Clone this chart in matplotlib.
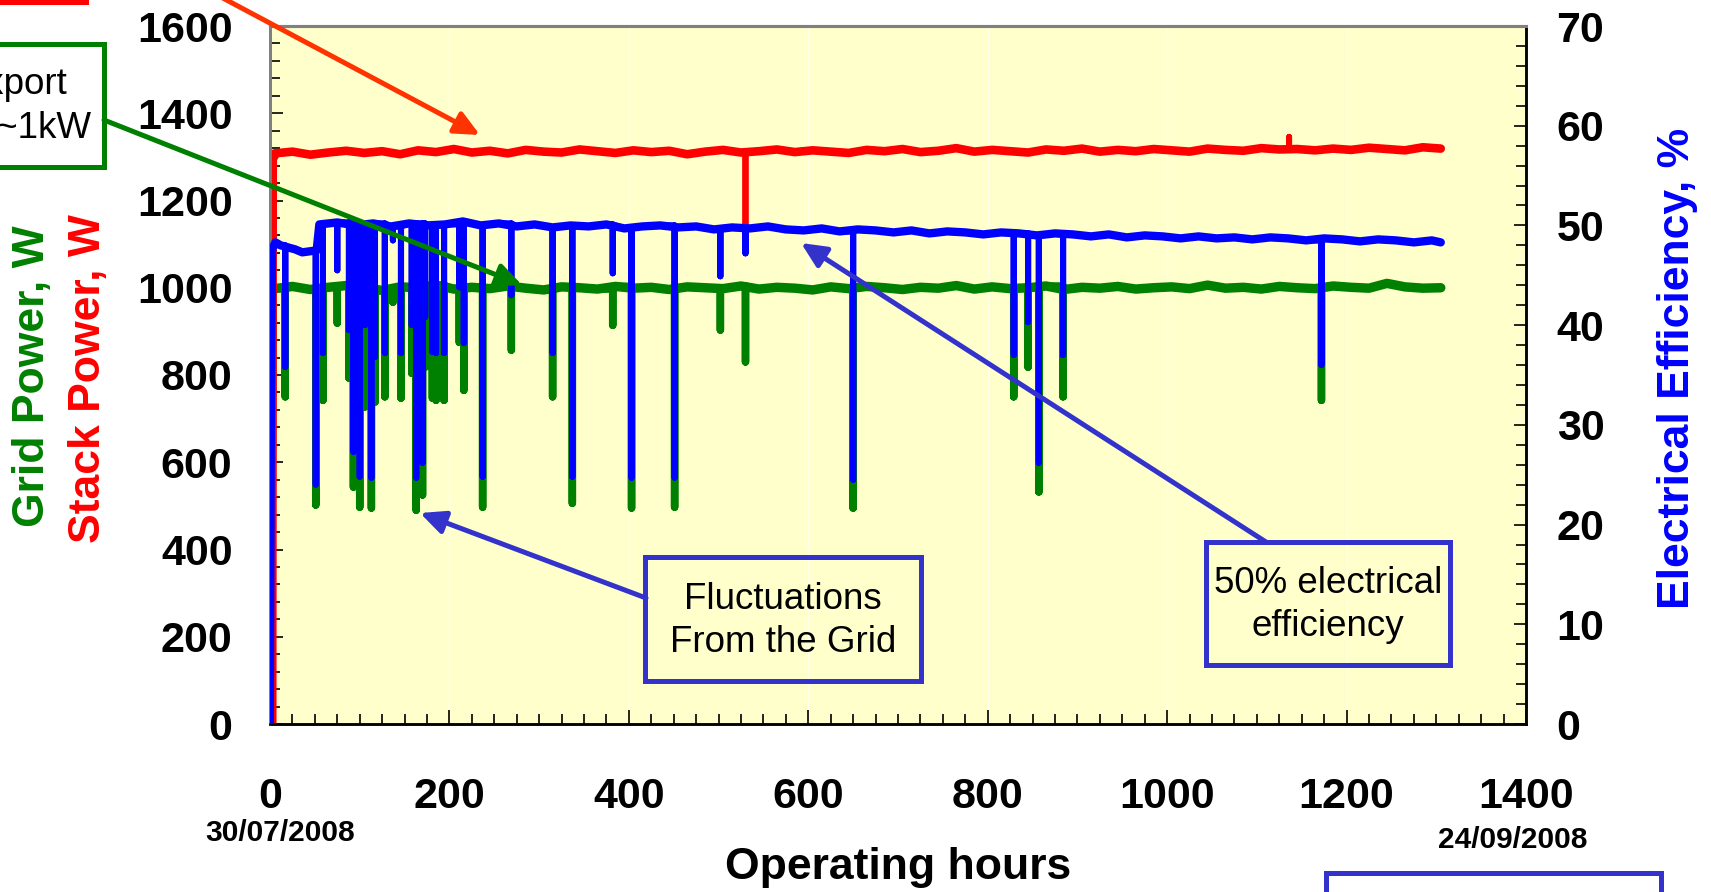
import numpy as np
import matplotlib
matplotlib.use("Agg")
import matplotlib.pyplot as plt
from matplotlib.ticker import MultipleLocator
from matplotlib.patches import Rectangle, FancyArrowPatch

# ---------------- data ----------------
sample_hours = list(range(5, 1306, 20))  # read-out hours for grid and stack power

grid_power = [998, 1003, 996, 1001, 1005, 999, 994, 1002, 1000, 1006,
              997, 1001, 998, 1004, 999, 995, 1002, 1000, 997, 1003,
              999, 1001, 996, 1002, 1000, 998, 1004, 997, 1001, 999,
              995, 1002, 998, 1003, 1000, 996, 1001, 999, 1005, 997,
              1002, 998, 1000, 1004, 996, 1001, 999, 1003, 997, 1000,
              1002, 998, 1006, 999, 1001, 997, 1003, 1000, 998, 1004,
              1001, 999, 1010, 1002, 999, 1000]

stack_power = [1308, 1312, 1305, 1310, 1314, 1309, 1313, 1306, 1315, 1311,
               1318, 1310, 1314, 1308, 1316, 1312, 1310, 1317, 1313, 1309,
               1315, 1311, 1314, 1306, 1312, 1316, 1310, 1313, 1317, 1311,
               1315, 1312, 1309, 1316, 1313, 1318, 1311, 1314, 1320, 1312,
               1316, 1313, 1310, 1317, 1314, 1319, 1312, 1316, 1313, 1318,
               1315, 1312, 1319, 1316, 1314, 1320, 1317, 1318, 1315, 1319,
               1316, 1321, 1318, 1315, 1322, 1319]

grid_start_hours = [1.5, 3.5]
grid_start = [0, 1000]
stack_start_hours = [4.0, 4.6]
stack_start = [0, 1300]

eff_early_hours = [1.0, 2.5, 3.5, 6, 12, 20, 28, 36, 44, 52]
eff_early = [0, 38, 47.8, 48.3, 48.0, 47.8, 47.6, 47.3, 47.4, 47.5]
eff_hours = list(range(55, 1296, 20)) + [1305]
eff_values = [50.1, 50.3, 50.0, 50.2, 49.9, 50.2, 50.0, 50.1, 50.4, 50.0,
              50.2, 49.9, 50.1, 49.8, 50.0, 49.9, 50.1, 49.7, 49.9, 50.0,
              49.8, 49.9, 49.6, 49.8, 49.7, 49.9, 49.6, 49.5, 49.7, 49.4,
              49.6, 49.5, 49.3, 49.5, 49.2, 49.4, 49.3, 49.1, 49.3, 49.2,
              49.0, 49.2, 49.1, 48.9, 49.1, 48.8, 49.0, 48.9, 48.7, 48.9,
              48.7, 48.8, 48.6, 48.8, 48.7, 48.5, 48.7, 48.6, 48.4, 48.6,
              48.5, 48.3, 48.5, 48.3]

# grid disturbances: hour, grid power at the bottom (W), efficiency at the bottom (%)
dip_hours = [17, 51, 59, 75, 88, 93, 100, 106, 113, 117, 128, 137, 146, 158,
             163, 170, 173, 181, 185, 194, 211, 216, 237, 269, 315, 337, 382,
             403, 451, 502, 530, 650, 829, 845, 857, 884, 1172]
dip_grid = [750, 502, 742, 919, 793, 543, 497, 727, 495, 738, 750, 967, 747, 804,
            490, 525, 818, 747, 742, 742, 875, 765, 497, 857, 750, 506, 914,
            495, 497, 903, 830, 495, 750, 818, 532, 750, 742]
dip_eff = [35.8, 24.0, 37.2, 45.5, 39.5, 27.3, 24.8, 40.0, 24.7, 36.8, 37.2, 48.5,
           37.2, 40.0, 24.7, 26.2, 40.8, 37.3, 37.2, 37.2, 43.8, 38.2, 24.8, 43.0,
           37.2, 24.8, 45.2, 24.7, 24.7, 44.9, 47.2, 24.5, 37.0, 40.3, 26.2, 37.0,
           36.0]
stack_event_hours = [530, 1136]
stack_event = [1137, 1346]

x_ticks = [0, 200, 400, 600, 800, 1000, 1200, 1400]
left_ticks = [0, 200, 400, 600, 800, 1000, 1200, 1400, 1600]
right_ticks = [0, 10, 20, 30, 40, 50, 60, 70]


def with_events(bt, bv, et, ev):
    """Line through the read points, with each event as a vertical spike."""
    order = np.argsort(et)
    et = [et[i] for i in order]
    ev = [ev[i] for i in order]
    xs, ys = [], []
    j = 0
    for i in range(len(bt)):
        xs.append(bt[i]); ys.append(bv[i])
        nxt = bt[i + 1] if i + 1 < len(bt) else np.inf
        while j < len(et) and et[j] < nxt:
            if et[j] >= bt[i]:
                xs += [et[j], et[j], et[j]]
                ys += [bv[i], ev[j], bv[i]]
            j += 1
    return xs, ys


plt.rcParams['font.family'] = ['Liberation Sans', 'DejaVu Sans']
plt.rcParams['font.weight'] = 'bold'

W, H = 1711, 892
fig = plt.figure(figsize=(W / 100, H / 100), dpi=100)
ax = fig.add_axes([270 / W, 1 - 724 / H, (1526 - 270) / W, (724 - 26) / H])
ax.set_facecolor('#FFFFCC')
ax2 = ax.twinx()

gbt, gbv = grid_start_hours + sample_hours, grid_start + grid_power
sbt, sbv = stack_start_hours + sample_hours, stack_start + stack_power
ebt, ebv = eff_early_hours + eff_hours, eff_early + eff_values
gx, gy = with_events(gbt, gbv, dip_hours, dip_grid)
sx, sy = with_events(sbt, sbv, stack_event_hours, stack_event)
ex, ey = with_events(ebt, ebv, dip_hours, dip_eff)

kw = dict(solid_joinstyle='round', solid_capstyle='round')
# spikes + thicker (noisy-looking) baselines
ax.plot(gx, gy, color='#008000', lw=5.4, **kw, zorder=3)
ax.plot(gbt[1:], gbv[1:], color='#008000', lw=6.8, **kw, zorder=3)
ax.plot(sx, sy, color='#FF0000', lw=4.2, **kw, zorder=4)
ax.plot(sbt[1:], sbv[1:], color='#FF0000', lw=6.2, **kw, zorder=4)
ax2.plot(ex, ey, color='#0000FF', lw=4.4, **kw, zorder=3)
ax2.plot(ebt[2:], ebv[2:], color='#0000FF', lw=6.0, **kw, zorder=3)

ax.set_xlim(0, 1400)
ax.set_ylim(0, 1600)
ax2.set_ylim(0, 70)
ax.set_xticks(x_ticks)
ax.set_yticks(left_ticks)
ax2.set_yticks(right_ticks)
ax.xaxis.set_minor_locator(MultipleLocator(25))
ax.yaxis.set_minor_locator(MultipleLocator(40))
ax2.yaxis.set_minor_locator(MultipleLocator(2))

ax.grid(axis='x', which='major', color='white', lw=1.0, alpha=0.6)
ax.set_axisbelow(True)

ax.tick_params(axis='x', which='both', direction='in', pad=38, labelsize=31, width=1.2)
ax.tick_params(axis='x', which='major', length=10)
ax.tick_params(axis='x', which='minor', length=7)
ax.tick_params(axis='y', which='both', direction='in', pad=27, labelsize=31, width=1.2,
               right=False)
ax.tick_params(axis='y', which='major', length=9)
ax.tick_params(axis='y', which='minor', length=7)
ax2.tick_params(axis='y', which='both', direction='in', pad=22, labelsize=31, width=1.2)
ax2.tick_params(axis='y', which='major', length=9)
ax2.tick_params(axis='y', which='minor', length=7)

for a in (ax, ax2):
    a.spines['top'].set_color('#808080')
    a.spines['left'].set_color('#808080')
    a.spines['top'].set_linewidth(2.2)
    a.spines['left'].set_linewidth(2.0)
    a.spines['bottom'].set_linewidth(1.8)
    a.spines['right'].set_linewidth(1.8)


def P(x, y):
    return (x / W, 1 - y / H)


# axis titles
fig.text(*P(33, 376), 'Grid Power, W', color='#008000', fontsize=32,
         rotation=90, ha='center', va='center')
fig.text(*P(89, 379), 'Stack Power, W', color='#FF0000', fontsize=32,
         rotation=90, ha='center', va='center')
fig.text(*P(1677, 368), 'Electrical Efficiency, %', color='#0000FF', fontsize=32,
         rotation=90, ha='center', va='center')
fig.text(*P(898, 868), 'Operating hours', fontsize=32, ha='center', va='center')
fig.text(*P(280, 833), '30/07/2008', fontsize=21.5, ha='center', va='center')
fig.text(*P(1513, 840), '24/09/2008', fontsize=21.5, ha='center', va='center')


def box(x0, y0, x1, y1, color):
    r = Rectangle(P(x0, y1), (x1 - x0) / W, (y1 - y0) / H, transform=fig.transFigure,
                  fill=False, edgecolor=color, lw=3.6, zorder=5)
    fig.add_artist(r)


def arrow(xa, ya, xb, yb, color):
    a = FancyArrowPatch(P(xa, ya), P(xb, yb), transform=fig.transFigure,
                        arrowstyle='-|>,head_length=0.75,head_width=0.35',
                        mutation_scale=20, lw=3.6, color=color,
                        shrinkA=0, shrinkB=0, zorder=6)
    fig.add_artist(a)


note = dict(fontsize=26.5, fontweight='normal', zorder=7)
blue_box = '#3333CC'
box(645, 557, 921, 681, blue_box)
fig.text(*P(783, 621), 'Fluctuations\nFrom the Grid', ha='center', va='center',
         multialignment='center', linespacing=1.32, **note)
box(1206, 542, 1450, 665, blue_box)
fig.text(*P(1328, 605), '50% electrical\nefficiency', ha='center', va='center',
         multialignment='center', linespacing=1.32, **note)
box(-146, 44, 104, 167, '#008000')
fig.text(*P(67, 84), 'Grid Export', ha='right', va='center', **note)
fig.text(*P(91, 129), 'Power ~1kW', ha='right', va='center', **note)
box(-150, -120, 86, 2, '#FF0000')
box(1326, 873, 1661, 1000, blue_box)

arrow(127, -53, 480, 135, '#FF3300')
arrow(104, 120, 522, 285, '#008000')
arrow(646, 598, 420, 513, blue_box)
arrow(1266, 542, 801, 243, blue_box)

fig.savefig('out.png', dpi=100)
